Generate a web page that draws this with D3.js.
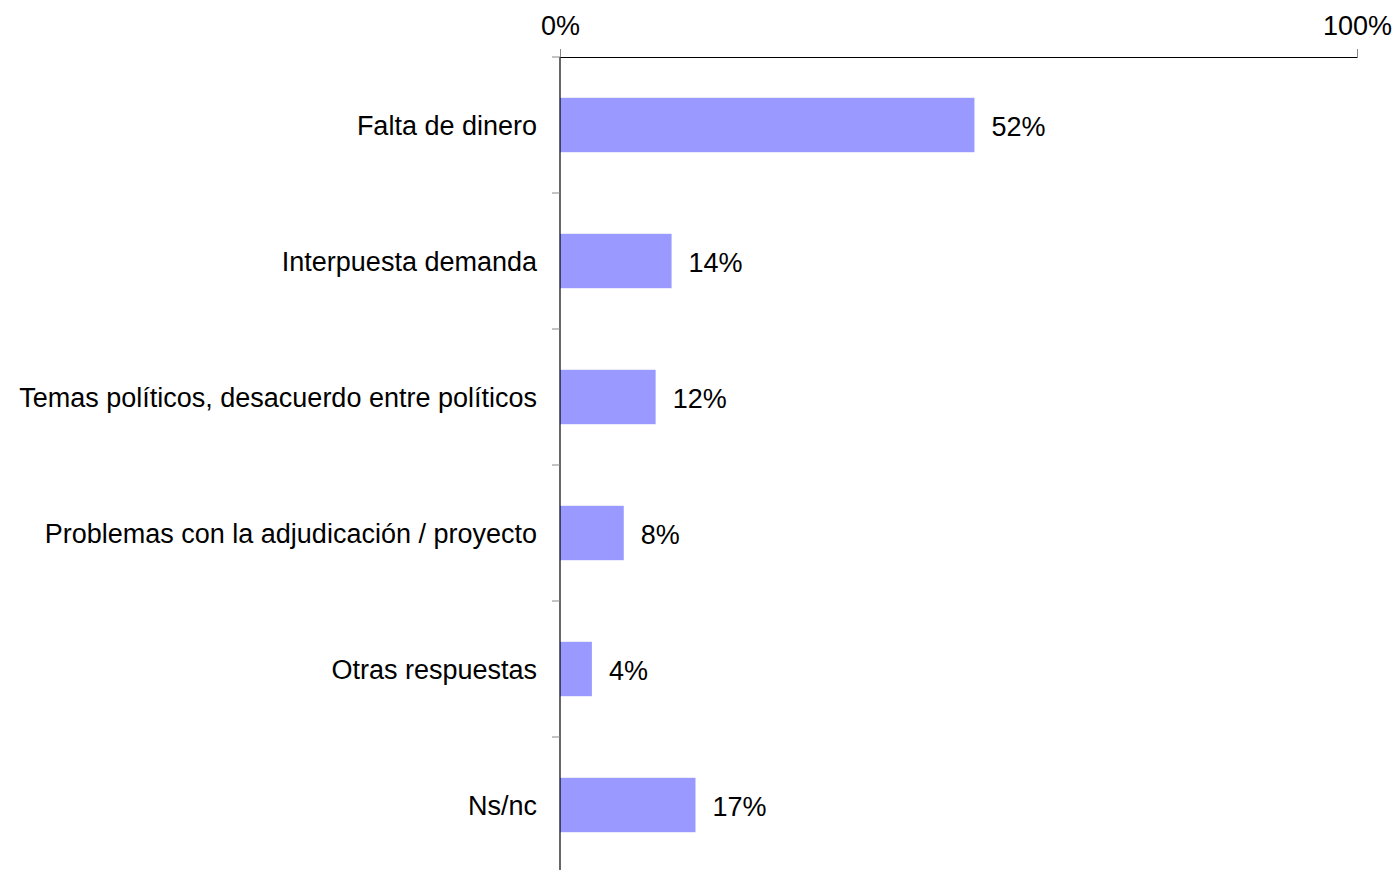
<!DOCTYPE html>
<html><head><meta charset="utf-8">
<script src="https://cdn.jsdelivr.net/npm/d3@7"></script>
<style>body{margin:0;background:#fff;}svg{display:block;}</style>
</head><body>
<svg id="c" width="1397" height="870"></svg>
<script>
const categories = ["Falta de dinero","Interpuesta demanda","Temas políticos, desacuerdo entre políticos","Problemas con la adjudicación / proyecto","Otras respuestas","Ns/nc"];
const values = [52,14,12,8,4,17];
const tickValues = [0,100];

(function(){
const svg = d3.select("#c");
const x0 = 560, x1 = 1357, y0 = 57, y1 = 873;
const x = d3.scaleLinear().domain([0,100]).range([x0,x1]);
const y = d3.scaleBand().domain(categories).range([y0,y1]).paddingInner(0.6).paddingOuter(0.3);
const font = "Liberation Sans, Arial, sans-serif";
const fs = 27;

// bars
svg.append("g").selectAll("rect").data(values).join("rect")
  .attr("x", x(0)).attr("y",(d,i)=>y(categories[i]))
  .attr("width", d=>x(d)-x(0)).attr("height", y.bandwidth())
  .attr("fill","#9999ff");

// value labels
svg.append("g").selectAll("text").data(values).join("text")
  .attr("x", d=>x(d)+17).attr("y",(d,i)=>y(categories[i])+y.bandwidth()/2)
  .attr("dy","0.4em").attr("font-family",font).attr("font-size",fs).attr("fill","#000")
  .text(d=>d+"%");

// top axis
const topAxis = svg.append("g").attr("transform",`translate(0,${y0})`)
  .call(d3.axisTop(x).tickValues(tickValues).tickFormat(d=>d+"%").tickSize(8).tickSizeOuter(0));
topAxis.select(".domain").attr("stroke","#000").attr("stroke-width",1.2);
topAxis.selectAll(".tick line").attr("stroke","#888");
topAxis.selectAll(".tick text").attr("font-family",font).attr("font-size",fs).attr("fill","#000").attr("dy","0").attr("y",-22);

// left axis
const left = svg.append("g").attr("transform",`translate(${x0},0)`);
left.append("line").attr("x1",0).attr("x2",0).attr("y1",y0).attr("y2",y1).attr("stroke","#000").attr("stroke-width",1.2);
left.selectAll("line.t").data(categories).join("line").attr("class","t")
  .attr("x1",-8).attr("x2",0)
  .attr("y1",(d,i)=>y0+i*(y1-y0)/categories.length).attr("y2",(d,i)=>y0+i*(y1-y0)/categories.length)
  .attr("stroke","#888");
left.selectAll("text").data(categories).join("text")
  .attr("x",-23).attr("y",d=>y(d)+y.bandwidth()/2).attr("dy","0.38em")
  .attr("text-anchor","end").attr("font-family",font).attr("font-size",fs).attr("fill","#000")
  .text(d=>d);
})();
</script>
</body></html>
